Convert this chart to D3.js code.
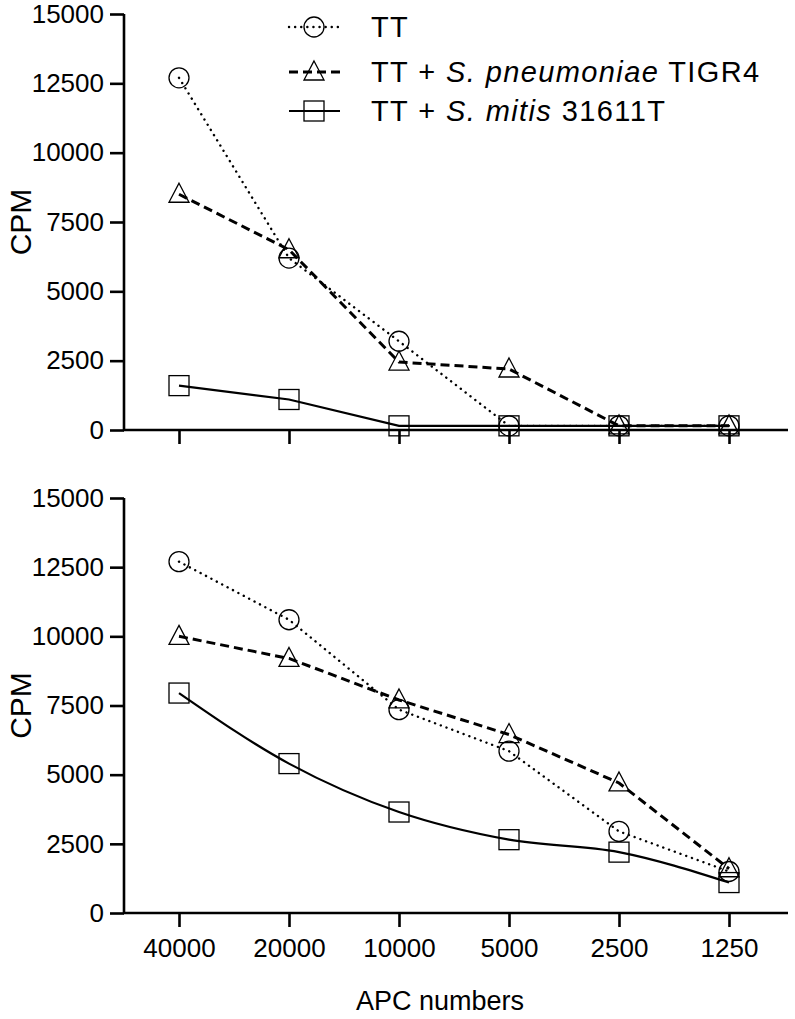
<!DOCTYPE html>
<html>
<head>
<meta charset="utf-8">
<script src="https://cdn.jsdelivr.net/npm/d3@7"></script>
<style>
  body { margin: 0; background: #fff; }
  svg { font-family: "Liberation Sans", Arial, sans-serif; }
</style>
</head>
<body>
<div id="chart"></div>
<script>
// dati
var apc = ["40000", "20000", "10000", "5000", "2500", "1250"]
var yTicks = [0, 2500, 5000, 7500, 10000, 12500, 15000]

// pannello superiore
var topTT = [12700, 6200, 3200, 150, 150, 150]
var topTIGR4 = [8500, 6500, 2450, 2200, 150, 150]
var topMitis = [1600, 1100, 150, 150, 150, 150]

// pannello inferiore
var botTT = [12700, 10600, 7350, 5850, 2950, 1500]
var botTIGR4 = [10000, 9200, 7700, 6450, 4700, 1600]
var botMitis = [7950, 5400, 3650, 2650, 2200, 1100]

var W = 795, H = 1019

var svg = d3.select("#chart").append("svg")
	.attr("width", W)
	.attr("height", H)

var x = d3.scalePoint().domain(apc).range([179, 729])

var styles = {
	tt:    {dash: "0.1 6", width: 2.4, cap: "round", marker: "circle"},
	tigr4: {dash: "9 5", width: 3, cap: "butt", marker: "triangle"},
	mitis: {dash: null, width: 2.2, cap: "butt", marker: "square"}
}

function marker(g, type, cx, cy) {
	if (type == "circle") {
		g.append("circle").attr("cx", cx).attr("cy", cy).attr("r", 10)
			.attr("fill", "none").attr("stroke", "#000").attr("stroke-width", 1.3)
	} else if (type == "triangle") {
		g.append("path")
			.attr("d", "M" + cx + "," + (cy - 11) + "L" + (cx + 10) + "," + (cy + 8) + "L" + (cx - 10) + "," + (cy + 8) + "Z")
			.attr("fill", "none").attr("stroke", "#000").attr("stroke-width", 1.3)
	} else {
		g.append("rect").attr("x", cx - 10).attr("y", cy - 10).attr("width", 20).attr("height", 20)
			.attr("fill", "none").attr("stroke", "#000").attr("stroke-width", 1.3)
	}
}

function panel(y0, y1, series, showLabels) {
	var y = d3.scaleLinear().domain([0, 15000]).range([y0, y1])
	var g = svg.append("g")

	// asse y
	g.append("g")
		.attr("transform", "translate(124,0)")
		.call(d3.axisLeft(y).tickValues(yTicks).tickFormat(d3.format("d")).tickSize(14).tickSizeOuter(0).tickPadding(6))
		.call(function (a) {
			a.select(".domain").remove()
			a.selectAll("line").attr("stroke-width", 2.6)
			a.selectAll("text").attr("font-size", 26).attr("font-family", "Liberation Sans, Arial, sans-serif").attr("fill", "#000")
		})
	g.append("line").attr("x1", 124).attr("x2", 124).attr("y1", y1).attr("y2", y0 + 1)
		.attr("stroke", "#000").attr("stroke-width", 2.6)

	// asse x
	g.append("g")
		.attr("transform", "translate(0," + y0 + ")")
		.call(d3.axisBottom(x).tickSize(14).tickSizeOuter(0).tickPadding(12))
		.call(function (a) {
			a.select(".domain").remove()
			a.selectAll("line").attr("stroke-width", 2.6)
			a.selectAll("text").attr("font-size", 26).attr("font-family", "Liberation Sans, Arial, sans-serif").attr("fill", "#000")
			if (!showLabels) a.selectAll("text").remove()
		})
	g.append("line").attr("x1", 123).attr("x2", 788).attr("y1", y0).attr("y2", y0)
		.attr("stroke", "#000").attr("stroke-width", 2.6)

	g.append("text")
		.attr("transform", "translate(31," + ((y0 + y1) / 2) + ") rotate(-90)")
		.attr("text-anchor", "middle")
		.attr("font-size", 30)
		.text("CPM")

	series.forEach(function (s) {
		var st = styles[s.key]
		var line = d3.line()
			.x(function (d, i) { return x(apc[i]) })
			.y(function (d) { return y(d) })
			.curve(s.curve || d3.curveLinear)
		g.append("path")
			.attr("d", line(s.values))
			.attr("fill", "none")
			.attr("stroke", "#000")
			.attr("stroke-width", st.width)
			.attr("stroke-linecap", st.cap)
			.attr("stroke-dasharray", st.dash)
		s.values.forEach(function (v, i) {
			marker(g, st.marker, x(apc[i]), y(v))
		})
	})
}

panel(430, 14, [
	{key: "tt", values: topTT},
	{key: "tigr4", values: topTIGR4},
	{key: "mitis", values: topMitis}
], false)

panel(913, 498, [
	{key: "tt", values: botTT},
	{key: "tigr4", values: botTIGR4},
	{key: "mitis", values: botMitis, curve: d3.curveMonotoneX}
], true)

svg.append("text")
	.attr("x", 440).attr("y", 1010)
	.attr("text-anchor", "middle")
	.attr("font-size", 27)
	.text("APC numbers")

// legenda
var legend = [
	{key: "tt", parts: [["TT", false]]},
	{key: "tigr4", parts: [["TT + ", false], ["S. pneumoniae", true], [" TIGR4", false]]},
	{key: "mitis", parts: [["TT + ", false], ["S. mitis", true], [" 31611T", false]]}
]
var legY = [27, 72, 111]
var lg = svg.append("g")
legend.forEach(function (l, i) {
	var st = styles[l.key]
	lg.append("line").attr("x1", 289).attr("x2", 340).attr("y1", legY[i]).attr("y2", legY[i])
		.attr("stroke", "#000").attr("stroke-width", st.width)
		.attr("stroke-linecap", st.cap).attr("stroke-dasharray", st.dash)
	marker(lg, st.marker, 314, legY[i])
	var t = lg.append("text").attr("x", 371).attr("y", legY[i] + 10)
		.attr("font-size", 29).attr("letter-spacing", 1.4)
	l.parts.forEach(function (p) {
		t.append("tspan").attr("font-style", p[1] ? "italic" : "normal").text(p[0])
	})
})
</script>
</body>
</html>
